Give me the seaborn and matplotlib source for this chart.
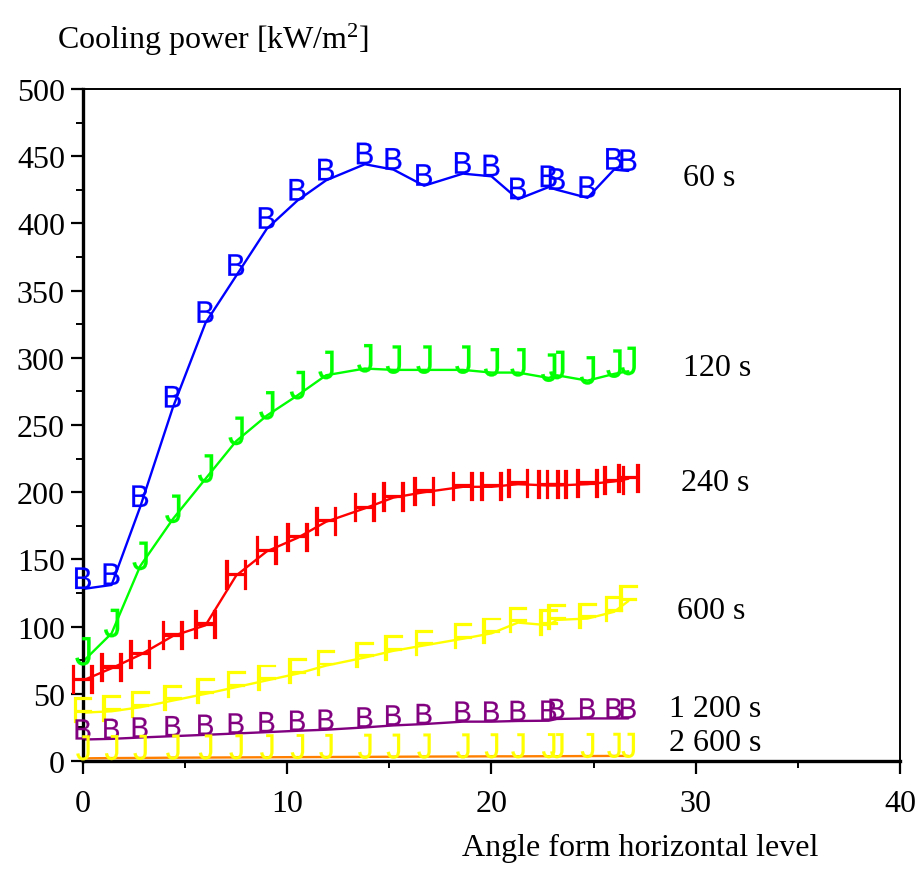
import numpy as np
import pandas as pd
import matplotlib
matplotlib.use("Agg")
import matplotlib.pyplot as plt
import seaborn as sns
from matplotlib.markers import MarkerStyle
from matplotlib.transforms import Affine2D
from matplotlib.ticker import MultipleLocator

# ---------------- data ----------------
angle = [0, 1.4, 2.8, 4.4, 6.0, 7.5, 9.0, 10.5, 11.9, 13.8,
         15.2, 16.7, 18.6, 20.0, 21.3, 22.8, 23.2, 24.7, 26.0, 26.7]

p60 = [128, 131, 189, 263, 326, 361, 396, 417, 432, 444,
       440, 428, 437, 435, 418, 427, 425, 419, 440, 439]
p120 = [74, 95, 145, 180, 210, 238, 257, 272, 287, 292,
        291, 291, 291, 289, 289, 285, 287, 283, 288, 290]
p240 = [60, 69, 79, 93, 101, 138, 156, 166, 178, 188,
        196, 200, 204, 204, 206, 205, 205, 206, 208, 210]
p600 = [36, 37, 40, 45, 50, 55, 60, 65, 71, 77,
        82, 86, 91, 95, 103, 101, 105, 106, 111, 119]
p1200 = [16, 16.5, 17.5, 18.5, 19.5, 20.5, 21.5, 22.5, 23.3, 25,
         26.5, 27.5, 29.3, 29.3, 29.8, 30, 31.3, 31.7, 31.7, 31.7]
p2600 = [2.0, 2.2, 2.3, 2.5, 2.6, 2.7, 2.8, 2.9, 3.0, 3.1,
         3.2, 3.3, 3.4, 3.5, 3.5, 3.6, 3.6, 3.7, 3.8, 3.8]

series = ["60 s", "120 s", "240 s", "600 s", "1 200 s", "2 600 s"]
values = [p60, p120, p240, p600, p1200, p2600]
letters = ["B", "J", "H", "F", "B", "J"]

x_ticks = [0, 10, 20, 30, 40]
y_ticks = [0, 50, 100, 150, 200, 250, 300, 350, 400, 450, 500]

x_label = "Angle form horizontal level"
y_label = "Cooling power [kW/m$^2$]"

# ---------------- style ----------------
line_colors = ["#0000FF", "#00FF00", "#FF0000", "#FFFF00", "#800080", "#FF8000"]
marker_colors = ["#0000FF", "#00FF00", "#FF0000", "#FFFF00", "#800080", "#FFFF00"]
# (scale, x-squeeze, vertical shift in glyph heights)
marker_geom = [(1.55, 0.95, 0.5), (2.05, 0.9, 0.36), (2.1, 0.95, 0.02),
               (1.9, 1.0, 0.1), (1.45, 0.95, 0.5), (1.8, 0.9, 0.42)]
label_pos = [(29.4, 434), (29.4, 293), (29.3, 207), (29.1, 112), (28.7, 39), (28.7, 14)]
fs = 23

sns.set_style("ticks")
plt.rcParams["font.family"] = ["Liberation Serif", "DejaVu Serif"]
plt.rcParams["mathtext.fontset"] = "custom"
plt.rcParams["mathtext.rm"] = "Liberation Serif"
plt.rcParams["mathtext.it"] = "Liberation Serif:italic"
plt.rcParams["mathtext.sf"] = "Liberation Sans"

df = pd.concat(
    [pd.DataFrame({"angle": angle, "power": v, "series": s}) for s, v in zip(series, values)],
    ignore_index=True,
)

fig = plt.figure(figsize=(9.19, 8.70), dpi=100)
ax = fig.add_axes([0.0903, 0.1241, 0.8890, 0.7725])

sns.lineplot(data=df, x="angle", y="power", hue="series", hue_order=series,
             palette=dict(zip(series, line_colors)), linewidth=1.7,
             errorbar=None, legend=False, ax=ax, zorder=2)

markers = {}
for s, L, (k, sx, dy) in zip(series, letters, marker_geom):
    markers[s] = MarkerStyle(r"$\mathsf{%s}$" % L,
                             transform=Affine2D().scale(k * sx, k).translate(0, dy * k))

sns.scatterplot(data=df, x="angle", y="power", hue="series", hue_order=series,
                palette=dict(zip(series, marker_colors)), style="series",
                style_order=series, markers=markers, s=100, linewidth=0.15,
                edgecolor="face", legend=False, ax=ax, zorder=3, clip_on=False)

ax.set_xlim(0, 40)
ax.set_ylim(0, 500)
ax.set_xticks(x_ticks)
ax.set_yticks(y_ticks)
ax.xaxis.set_minor_locator(MultipleLocator(5))
ax.yaxis.set_minor_locator(MultipleLocator(25))
ax.tick_params(which="major", direction="out", length=9, width=1.6,
               labelsize=fs, color="black", labelcolor="black")
ax.tick_params(which="minor", direction="out", length=5, width=1.4, color="black")
ax.tick_params(axis="x", which="major", pad=11)
ax.tick_params(axis="y", which="major", pad=4)
ax.set_xlabel("")
ax.set_ylabel("")

for side in ["left", "bottom"]:
    ax.spines[side].set_linewidth(2.4)
    ax.spines[side].set_color("black")
for side in ["top", "right"]:
    ax.spines[side].set_linewidth(1.4)
    ax.spines[side].set_color("black")
    ax.spines[side].set_visible(True)

for s, (lx, ly) in zip(series, label_pos):
    ax.text(lx, ly, s, fontsize=fs, ha="left", va="center", color="black")

ax.text(0.8996, -0.128, x_label, transform=ax.transAxes, fontsize=fs,
        ha="right", va="center", color="black")
ax.text(-0.032, 1.075, y_label, transform=ax.transAxes, fontsize=fs,
        ha="left", va="center", color="black")

fig.savefig("out.png", dpi=100)
